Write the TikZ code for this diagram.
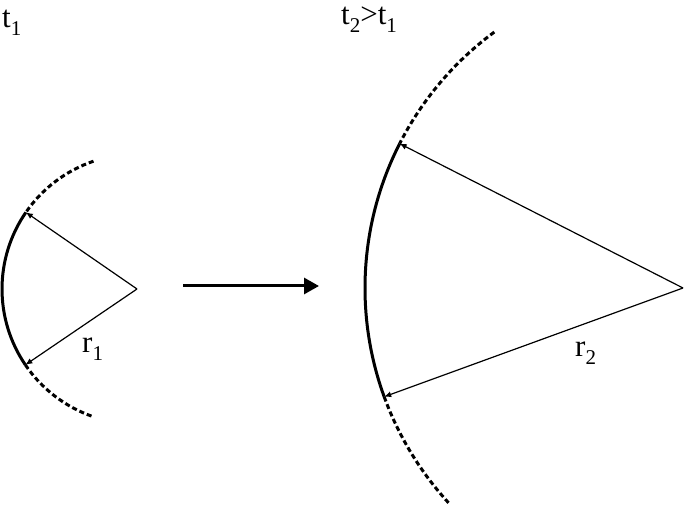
\documentclass[tikz,border=0pt]{standalone}
\usepackage{fontspec}
\setmainfont{Liberation Serif}
\usetikzlibrary{arrows.meta}
\newcommand\mysubs[1]{\raisebox{-8pt}{\fontsize{21}{21}\selectfont #1}}
\tikzset{
  lbl/.style={anchor=base west, inner sep=0pt, font=\fontsize{31}{36}\selectfont},
  solidarc/.style={line width=3pt},
  dasharc/.style={line width=3pt, dash pattern=on 5pt off 3pt},
  radius arrow/.style={line width=1.2pt, -{Latex[length=7pt,width=6pt]}},
  big arrow/.style={line width=3pt, -{Triangle[length=15pt,width=16pt]}}
}
\begin{document}
\begin{tikzpicture}[x=1pt,y=1pt]
\useasboundingbox (0,0) rectangle (685,505);
% left wavefront
\coordinate (c1) at (137,216);
\coordinate (a1) at ([shift={(145.4:135)}]c1);
\coordinate (b1) at ([shift={(214.2:135)}]c1);
\coordinate (d1) at ([shift={(108.8:135)}]c1);
\coordinate (e1) at ([shift={(250.6:135)}]c1);
\draw[dasharc] (d1) arc[start angle=108.8, end angle=145.4, radius=135];
\draw[solidarc] (a1) arc[start angle=145.4, end angle=214.2, radius=135];
\draw[dasharc] (b1) arc[start angle=214.2, end angle=250.6, radius=135];
\draw[radius arrow] (c1) -- (a1);
\draw[radius arrow] (c1) -- (b1);
% right wavefront
\coordinate (c2) at (683,217);
\coordinate (a2) at ([shift={(153:318)}]c2);
\coordinate (b2) at ([shift={(200:318)}]c2);
\coordinate (d2) at ([shift={(126.4:318)}]c2);
\coordinate (e2) at ([shift={(222.5:318)}]c2);
\draw[dasharc] (d2) arc[start angle=126.4, end angle=153, radius=318];
\draw[solidarc] (a2) arc[start angle=153, end angle=200, radius=318];
\draw[dasharc] (b2) arc[start angle=200, end angle=222.5, radius=318];
\draw[radius arrow] (c2) -- (a2);
\draw[radius arrow] (c2) -- (b2);
% middle arrow
\coordinate (m1) at (183,219);
\coordinate (m2) at (319,219);
\draw[big arrow] (m1) -- (m2);
% labels
\node[lbl] (t1) at (2,477) {t\mysubs{1}};
\node[lbl] (t2) at (341,480) {t\mysubs{2}>t\mysubs{1}};
\node[lbl] (r1) at (82,152) {r\mysubs{1}};
\node[lbl] (r2) at (575,148) {r\mysubs{2}};
\end{tikzpicture}
\end{document}
